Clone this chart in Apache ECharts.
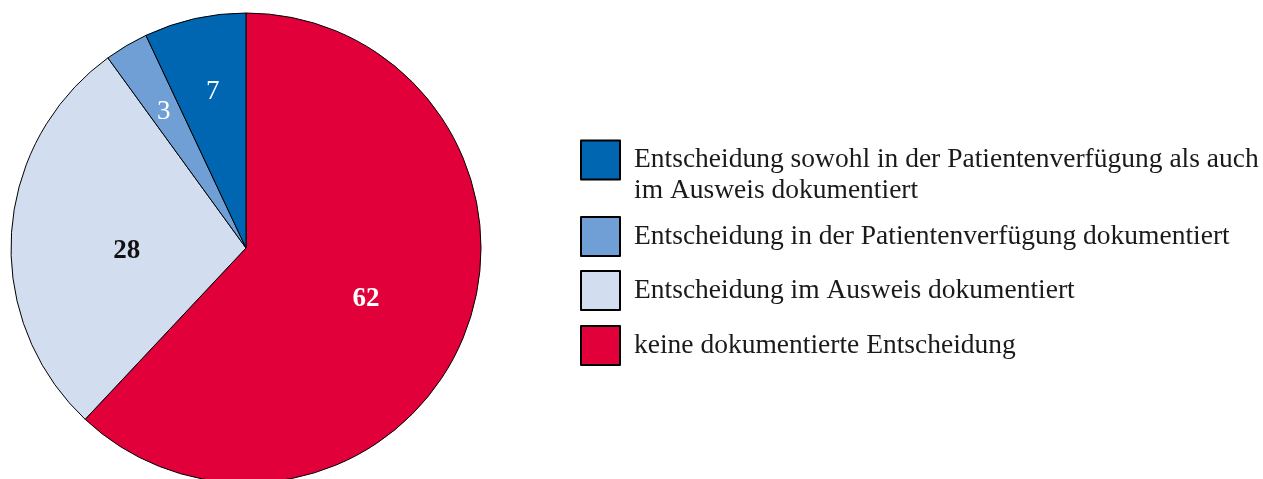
<!DOCTYPE html>
<html>
<head>
<meta charset="utf-8">
<script src="https://cdn.jsdelivr.net/npm/echarts@6/dist/echarts.min.js"></script>
<style>
	html, body {margin: 0; padding: 0; background: #fff;}
	#pie_div {width: 1263px; height: 479px;}
</style>
</head>
<body>
<div id="pie_div"></div>
<script>
// Werte im Uhrzeigersinn ab 12 Uhr
var categories = [
	'keine dokumentierte Entscheidung',
	'Entscheidung im Ausweis dokumentiert',
	'Entscheidung in der Patientenverfügung dokumentiert',
	'Entscheidung sowohl in der Patientenverfügung als auch im Ausweis dokumentiert'
];
var values = [62, 28, 3, 7];
var colors = ['#e2003a', '#d3ddf0', '#709fd5', '#0066b2'];
var labelColors = ['#fff', '#111', '#fff', '#fff'];
var labelWeights = ['bold', 'bold', 'normal', 'normal'];

// Reihenfolge in der Legende
var legendOrder = [3, 2, 1, 0];
var legendTop = [110.5, 216, 270, 325];
// Labels etwas verschoben wie im Original
var labelNudge = [[8, 7], [1, 11], [-21, -32], [-7, -38]];

var fontFam = '"Liberation Serif", "Times New Roman", serif';

function buildData() {
	var data = [];
	for (var i = 0; i < values.length; i++) {
		data.push({
			value: values[i],
			name: categories[i],
			itemStyle: {color: colors[i]},
			label: {color: labelColors[i], fontWeight: labelWeights[i]}
		});
	}
	return data;
}

function buildLegends() {
	var legends = [];
	for (var i = 0; i < legendOrder.length; i++) {
		legends.push({
			data: [categories[legendOrder[i]]],
			left: 580,
			top: legendTop[i],
			padding: 0,
			orient: 'vertical',
			icon: 'rect',
			itemWidth: 39,
			itemHeight: 39,
			selectedMode: false,
			formatter: function (name) {
				if (name === categories[3]) {
					// leere Zeile davor, damit die erste Zeile neben dem Kästchen steht
					return '\nEntscheidung sowohl in der Patientenverfügung als auch\nim Ausweis dokumentiert';
				}
				return name;
			},
			textStyle: {
				fontFamily: fontFam,
				fontSize: 27.5,
				lineHeight: 31,
				color: '#1a1a1a',
				padding: [6, 0, 0, 9]
			}
		});
	}
	return legends;
}

var chart = echarts.init(document.getElementById('pie_div'));
chart.setOption({
	animation: false,
	backgroundColor: '#fff',
	legend: buildLegends(),
	series: [{
		type: 'pie',
		center: [246, 248],
		radius: 235,
		startAngle: 90,
		clockwise: true,
		data: buildData(),
		itemStyle: {borderColor: '#000', borderWidth: 1},
		label: {
			show: true,
			position: 'inside',
			formatter: '{c}',
			fontFamily: fontFam,
			fontSize: 27
		},
		labelLayout: function (params) {
			var n = labelNudge[params.dataIndex];
			return {dx: n[0], dy: n[1]};
		},
		emphasis: {disabled: true}
	}]
});
</script>
</body>
</html>
